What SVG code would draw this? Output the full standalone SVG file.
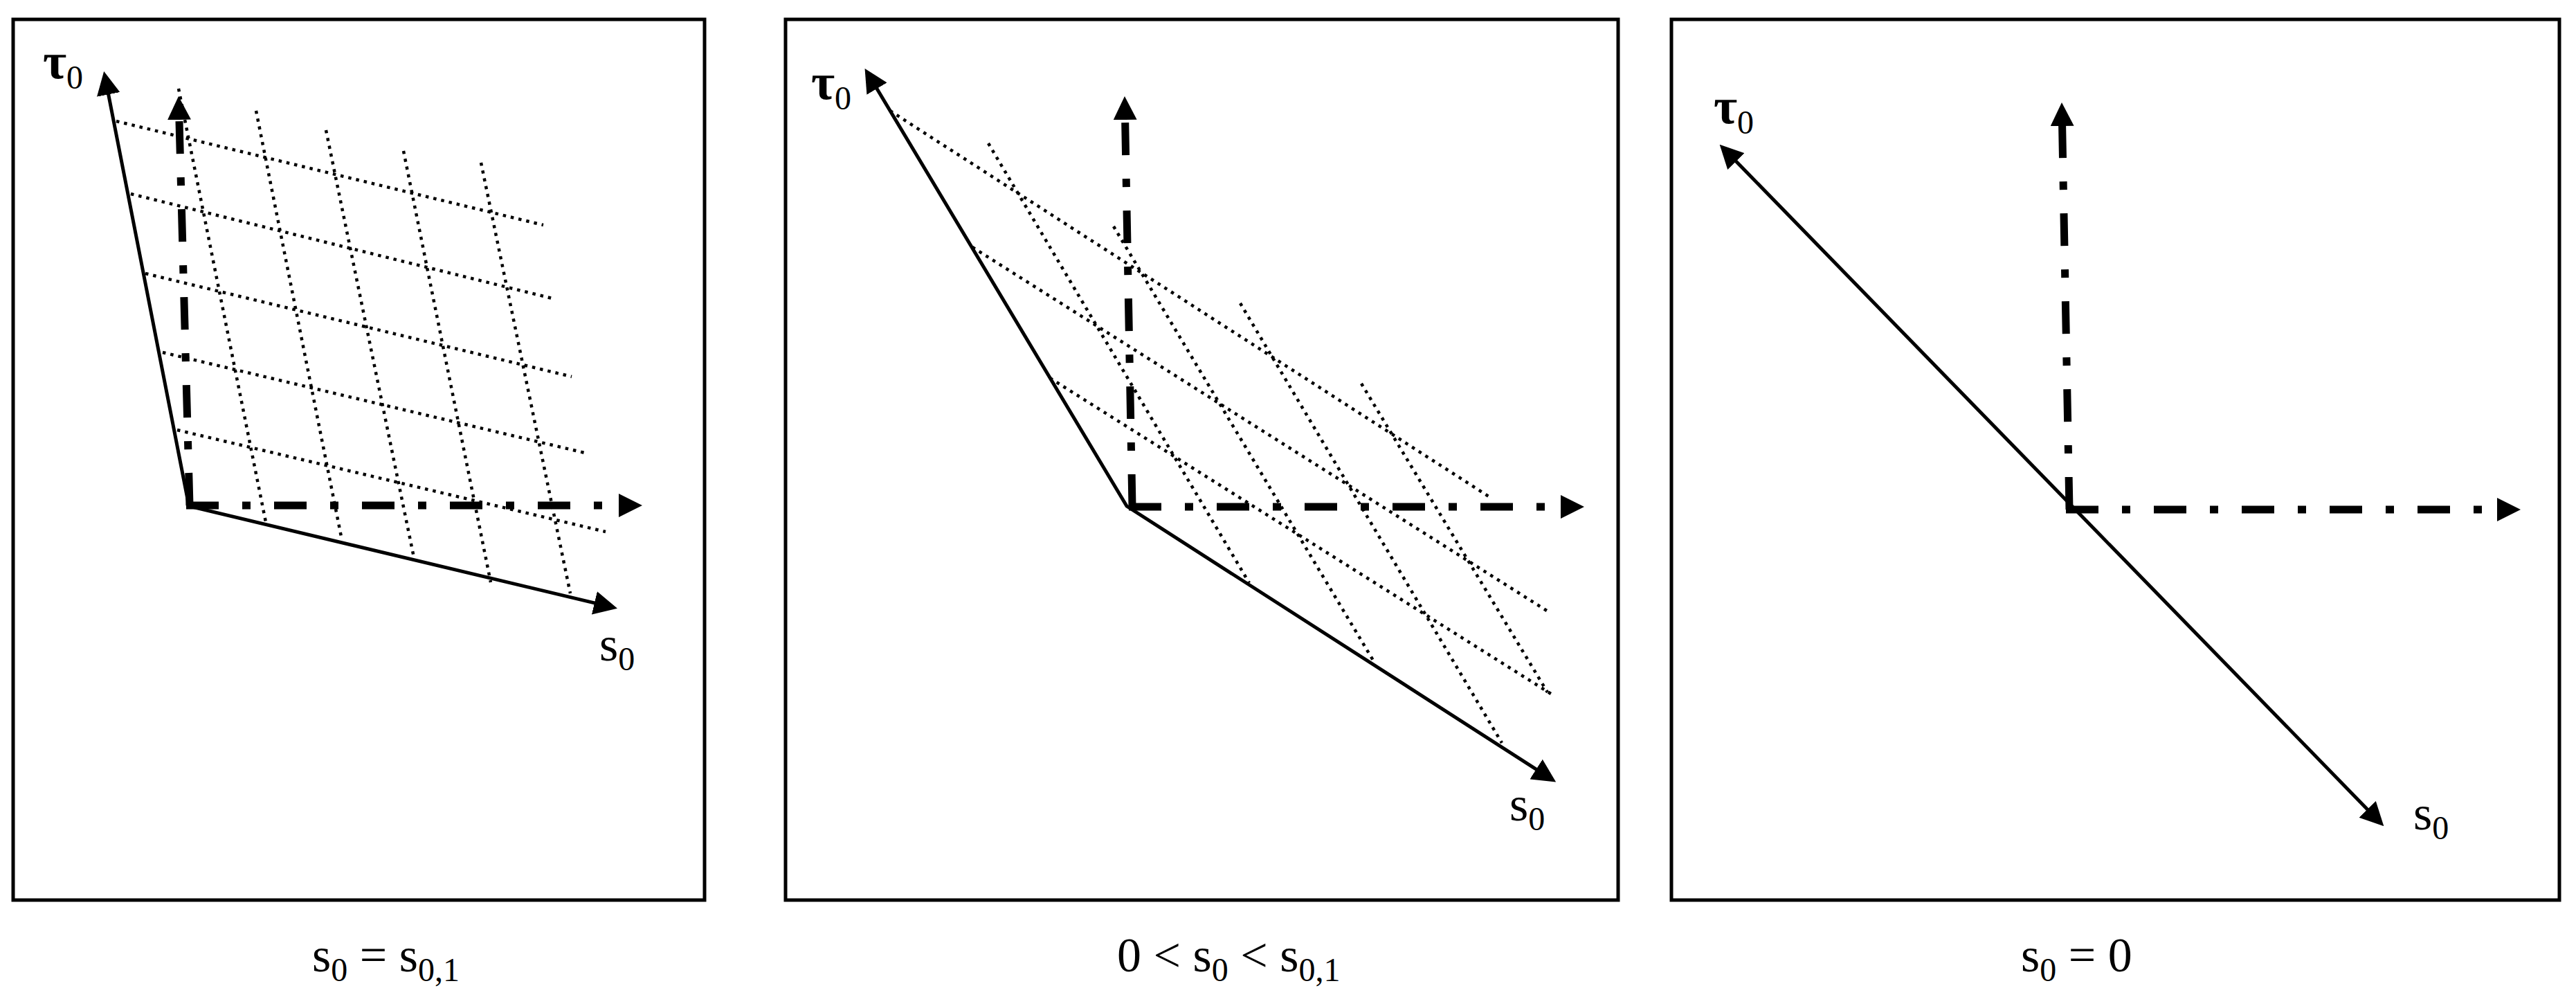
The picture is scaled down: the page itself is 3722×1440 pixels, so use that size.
<svg xmlns="http://www.w3.org/2000/svg" width="3722" height="1440" viewBox="0 0 3722 1440">
<style>
.frame{fill:none;stroke:#000;stroke-width:5}
.solid{fill:none;stroke:#000;stroke-width:5;stroke-linecap:butt}
.dd{fill:none;stroke:#000;stroke-width:11;stroke-linecap:butt;stroke-dasharray:47 34 12 34}
.dot{fill:none;stroke:#000;stroke-width:4.5;stroke-linecap:butt;stroke-dasharray:4.5 7}
.lbl{font-family:"Liberation Serif","Times New Roman",serif;font-size:70px;fill:#000}
.tau{font-family:"Liberation Serif","Times New Roman",serif;font-size:74px;font-weight:bold;fill:#000}
.sub{font-size:48px;font-weight:normal}
</style>
<defs>
<marker id="ah" markerUnits="userSpaceOnUse" markerWidth="34" markerHeight="34" viewBox="0 0 34 34" refX="1" refY="17" orient="auto-start-reverse"><path d="M0,0 L34,17 L0,34 z" fill="#000" stroke="none"/></marker>
</defs>
<rect width="3722" height="1440" fill="#fff"/>

<g id="panel1">
<rect class="frame" x="19" y="28" width="999" height="1272"/>
<g id="grid1">
<line class="dot" x1="168" y1="175" x2="785" y2="325"/>
<line class="dot" x1="189" y1="280" x2="802" y2="432"/>
<line class="dot" x1="210" y1="395" x2="826" y2="544"/>
<line class="dot" x1="235" y1="509" x2="849" y2="655"/>
<line class="dot" x1="256" y1="621" x2="875" y2="768"/>
<line class="dot" x1="258" y1="128" x2="384" y2="754"/>
<line class="dot" x1="370" y1="160" x2="494" y2="780"/>
<line class="dot" x1="471" y1="188" x2="599" y2="810"/>
<line class="dot" x1="583" y1="218" x2="709" y2="841"/>
<line class="dot" x1="695" y1="235" x2="824" y2="857"/>
</g>
<g id="axes1">
<line class="dd" x1="274" y1="730" x2="258.9" y2="172" marker-end="url(#ah)"/>
<line class="dd" x1="269" y1="730" x2="895" y2="730" marker-end="url(#ah)"/>
<polyline class="solid" points="156.5,135.4 273,731 859.9,871.1" marker-start="url(#ah)" marker-end="url(#ah)"/>
</g>
<text class="tau" x="62" y="113">τ<tspan class="sub" dy="15">0</tspan></text>
<text class="lbl" x="866" y="954">s<tspan class="sub" dy="14">0</tspan></text>
</g>

<g id="panel2">
<rect class="frame" x="1135" y="28" width="1203" height="1272"/>
<g id="grid2">
<line class="dot" x1="1286" y1="160" x2="2151" y2="717"/>
<line class="dot" x1="1405" y1="357" x2="2238" y2="884"/>
<line class="dot" x1="1517" y1="546" x2="2244" y2="1004"/>
<line class="dot" x1="1428" y1="207" x2="1805" y2="842"/>
<line class="dot" x1="1609" y1="327" x2="1986" y2="957"/>
<line class="dot" x1="1792" y1="438" x2="2170" y2="1073"/>
<line class="dot" x1="1967" y1="554" x2="2236" y2="1000"/>
</g>
<g id="axes2">
<line class="dd" x1="1636" y1="732" x2="1625.6" y2="172" marker-end="url(#ah)"/>
<line class="dd" x1="1631" y1="732" x2="2256" y2="732" marker-end="url(#ah)"/>
<polyline class="solid" points="1266.5,127.2 1628,731 2220.4,1111.6" marker-start="url(#ah)" marker-end="url(#ah)"/>
</g>
<text class="tau" x="1172" y="143">τ<tspan class="sub" dy="15">0</tspan></text>
<text class="lbl" x="2181" y="1185">s<tspan class="sub" dy="14">0</tspan></text>
</g>

<g id="panel3">
<rect class="frame" x="2415" y="28" width="1283" height="1272"/>
<g id="axes3">
<line class="dd" x1="2990" y1="736" x2="2979.6" y2="181" marker-end="url(#ah)"/>
<line class="dd" x1="2985" y1="736" x2="3609" y2="736" marker-end="url(#ah)"/>
<line class="solid" x1="2507.7" y1="232.3" x2="3421.3" y2="1169.7" marker-start="url(#ah)" marker-end="url(#ah)"/>
</g>
<text class="tau" x="2476" y="178">τ<tspan class="sub" dy="15">0</tspan></text>
<text class="lbl" x="3487" y="1198">s<tspan class="sub" dy="14">0</tspan></text>
</g>

<g id="captions">
<text class="lbl" x="451" y="1403">s<tspan class="sub" dy="14">0</tspan><tspan dy="-14"> = s</tspan><tspan class="sub" dy="14">0,1</tspan></text>
<text class="lbl" x="1614" y="1403">0 &lt; s<tspan class="sub" dy="14">0</tspan><tspan dy="-14"> &lt; s</tspan><tspan class="sub" dy="14">0,1</tspan></text>
<text class="lbl" x="2920" y="1403">s<tspan class="sub" dy="14">0</tspan><tspan dy="-14"> = 0</tspan></text>
</g>
</svg>
